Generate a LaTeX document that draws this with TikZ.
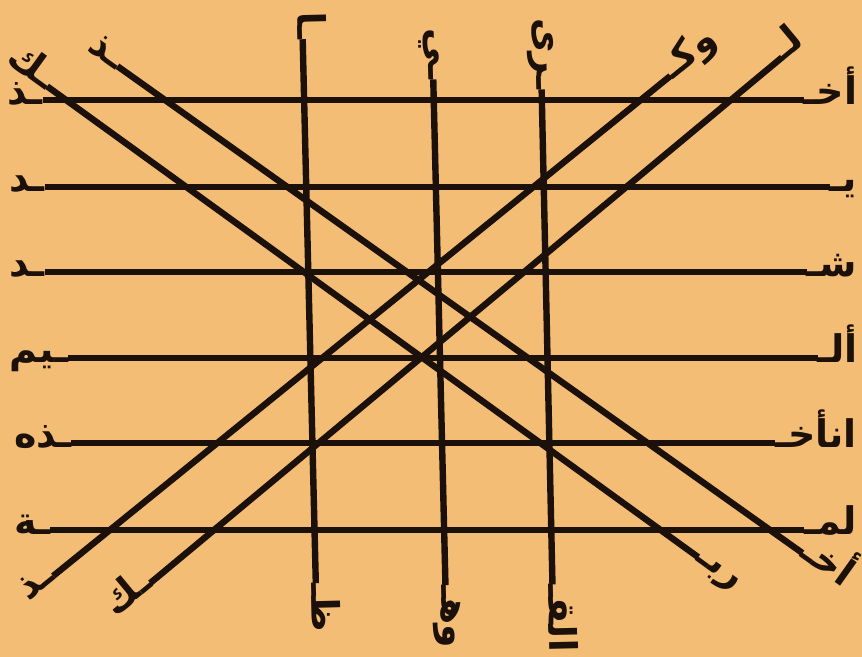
\documentclass[tikz,border=0pt]{standalone}
\usepackage{fontspec}
\newfontfamily\arabicfont[Script=Arabic]{DejaVu Sans}
\TeXXeTstate=1
\definecolor{paper}{RGB}{243,189,117}
\definecolor{ink}{RGB}{28,16,10}
\newcommand{\ar}[1]{\raisebox{-2.2pt}{\beginR #1\endR}}

\begin{document}
\begin{tikzpicture}[x=0.5pt, y=-0.5pt]
    % Styles
    \tikzstyle{word} = [inner sep=0pt, outer sep=0pt, text=ink,
        font=\arabicfont\bfseries\fontsize{19}{20}\selectfont]
    \tikzstyle{penline} = [ink, line width=3.2pt]

    % Paper
    \fill [paper] (0,0) rectangle (862,657);
    \useasboundingbox (0,0) rectangle (862,657);

    % === ROWS: read right to left ===
    \node [word, anchor=base east] (r1s) at (857,100) {\ar{أخـ}};
    \node [word, anchor=base west] (r1e) at (8,100) {\ar{ـذ}};
    \node [word, anchor=base east] (r2s) at (857,187) {\ar{يـ}};
    \node [word, anchor=base west] (r2e) at (10,187) {\ar{ـد}};
    \node [word, anchor=base east] (r3s) at (857,272) {\ar{شـ}};
    \node [word, anchor=base west] (r3e) at (10,272) {\ar{ـد}};
    \node [word, anchor=base east] (r4s) at (858,358) {\ar{ألـ}};
    \node [word, anchor=base west] (r4e) at (10,358) {\ar{ـيم}};
    \node [word, anchor=base east] (r5s) at (857,443) {\ar{انأخـ}};
    \node [word, anchor=base west] (r5e) at (14,443) {\ar{ـذه}};
    \node [word, anchor=base east] (r6s) at (857,530) {\ar{لمـ}};
    \node [word, anchor=base west] (r6e) at (14,530) {\ar{ـة}};

    % === COLUMNS: read bottom to top ===
    \node [word, rotate=-88.6, anchor=base east] (v1s) at (317,632) {\ar{ظـ}};
    \node [word, rotate=-88.6, anchor=base west] (v1e) at (302,12) {\ar{ـا}};
    \node [word, rotate=-88.6, anchor=base east] (v2s) at (447,648) {\ar{وهـ}};
    \node [word, rotate=-88.6, anchor=base west] (v2e) at (432,28) {\ar{ـي}};
    \node [word, rotate=-88.7, anchor=base east] (v3s) at (554,652) {\ar{القـ}};
    \node [word, rotate=-88.7, anchor=base west] (v3e) at (540,18) {\ar{ـرى}};

    % === RISING: read top right to bottom left ===
    \node [word, rotate=39.0, anchor=base east] (a1s) at (716,39) {\ar{وكـ}};
    \node [word, rotate=39.0, anchor=base west] (a1e) at (26,598) {\ar{ـذ}};
    \node [word, rotate=39.7, anchor=base east] (a2s) at (803,40) {\ar{لـ}};
    \node [word, rotate=39.7, anchor=base west] (a2e) at (113,614) {\ar{ـك}};

    % === FALLING: read bottom right to top left ===
    \node [word, rotate=-35.9, anchor=base east] (d1s) at (738,586) {\ar{ربـ}};
    \node [word, rotate=-35.9, anchor=base west] (d1e) at (8,58) {\ar{ـك}};
    \node [word, rotate=-35.4, anchor=base east] (d2s) at (846,584) {\ar{أخـ}};
    \node [word, rotate=-35.4, anchor=base west] (d2e) at (89,46) {\ar{ـذ}};

    % === STROKES ===
    \foreach \n in {r1,r2,r3,r4,r5,r6,v1,v2,v3,a1,a2,d1,d2}
        \draw [penline] (\n e.base east) -- (\n s.base west);

\end{tikzpicture}
\end{document}
